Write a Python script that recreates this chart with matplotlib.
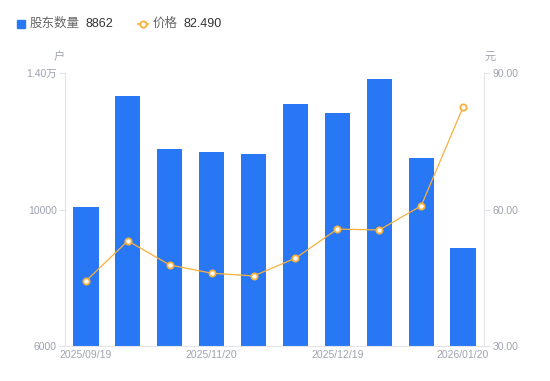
import matplotlib
matplotlib.use("Agg")
import matplotlib.pyplot as plt
from matplotlib.lines import Line2D
from matplotlib.patches import Rectangle
import numpy as np

plt.rcParams['font.family'] = ['Liberation Sans', 'Noto Sans CJK SC', 'DejaVu Sans']

# ==== data ====
dates = ["2025/09/19", "2025/10/20", "2025/10/31", "2025/11/20", "2025/11/30",
         "2025/12/10", "2025/12/19", "2025/12/31", "2026/01/10", "2026/01/20"]
holders = [10060, 13320, 11765, 11676, 11618, 13088, 12824, 13824, 11500, 8862]
price = [44.3, 53.1, 47.8, 46.0, 45.4, 49.3, 55.7, 55.5, 60.8, 82.49]
label_idx = [0, 3, 6, 9]

bar_color = "#2878f5"
line_color = "#f8b03c"
tick_color = "#9fa3b0"
axis_color = "#e3e4e8"

fig = plt.figure(figsize=(5.5, 3.81), dpi=100)
ax = fig.add_axes([65 / 550, 1 - 346 / 381, 419 / 550, 273 / 381])
ax2 = ax.twinx()

x = np.arange(len(dates))
ax.bar(x, holders, width=0.6, color=bar_color, zorder=2)
ax.set_xlim(-0.5, len(dates) - 0.5)
ax.set_ylim(6000, 14000)
ax.set_yticks([6000, 10000, 14000])
ax.set_yticklabels(["6000", "10000", "1.40万"])

ax2.plot(x, price, color=line_color, lw=0.9, marker="o", ms=4.5,
         mfc="white", mec=line_color, mew=1.3, zorder=3)
ax2.set_ylim(30, 90)
ax2.set_yticks([30, 60, 90])
ax2.set_yticklabels(["30.00", "60.00", "90.00"])

ax.set_xticks([x[i] for i in label_idx])
ax.set_xticklabels([dates[i] for i in label_idx])

for a in (ax, ax2):
    for s in a.spines.values():
        s.set_visible(False)
    a.tick_params(axis="y", colors=axis_color, labelcolor=tick_color,
                  labelsize=7.5, length=4, width=0.8, pad=2)
    a.tick_params(axis="x", length=0, labelcolor=tick_color, labelsize=7.5, pad=3)

ax.spines["left"].set_visible(True)
ax.spines["left"].set_color(axis_color)
ax.spines["bottom"].set_visible(True)
ax.spines["bottom"].set_color(axis_color)
ax2.spines["right"].set_visible(True)
ax2.spines["right"].set_color(axis_color)

# unit labels
fig.text(59 / 550, 1 - 57 / 381, "户", color=tick_color, fontsize=8, ha="center", va="center")
fig.text(490 / 550, 1 - 57 / 381, "元", color=tick_color, fontsize=8, ha="center", va="center")

# legend
fig.patches.append(Rectangle((17 / 550, 1 - 28 / 381), 8 / 550, 8 / 381,
                             transform=fig.transFigure, color=bar_color, figure=fig))
fig.text(30 / 550, 1 - 24 / 381, "股东数量", color="#666666", fontsize=9, va="center")
fig.text(85 / 550, 1 - 24 / 381, "8862", color="#333333", fontsize=9, va="center")
fig.lines.append(Line2D([138 / 550, 148 / 550], [1 - 24 / 381, 1 - 24 / 381],
                        transform=fig.transFigure, color=line_color, lw=1.2,
                        marker="o", markevery=[0], ms=0))
fig.lines.append(Line2D([143 / 550], [1 - 24 / 381], transform=fig.transFigure,
                        marker="o", ms=4.5, mfc="white", mec=line_color, mew=1.3, lw=0))
fig.text(153 / 550, 1 - 24 / 381, "价格", color="#666666", fontsize=9, va="center")
fig.text(183 / 550, 1 - 24 / 381, "82.490", color="#333333", fontsize=9, va="center")

fig.savefig("out.png", dpi=100)
